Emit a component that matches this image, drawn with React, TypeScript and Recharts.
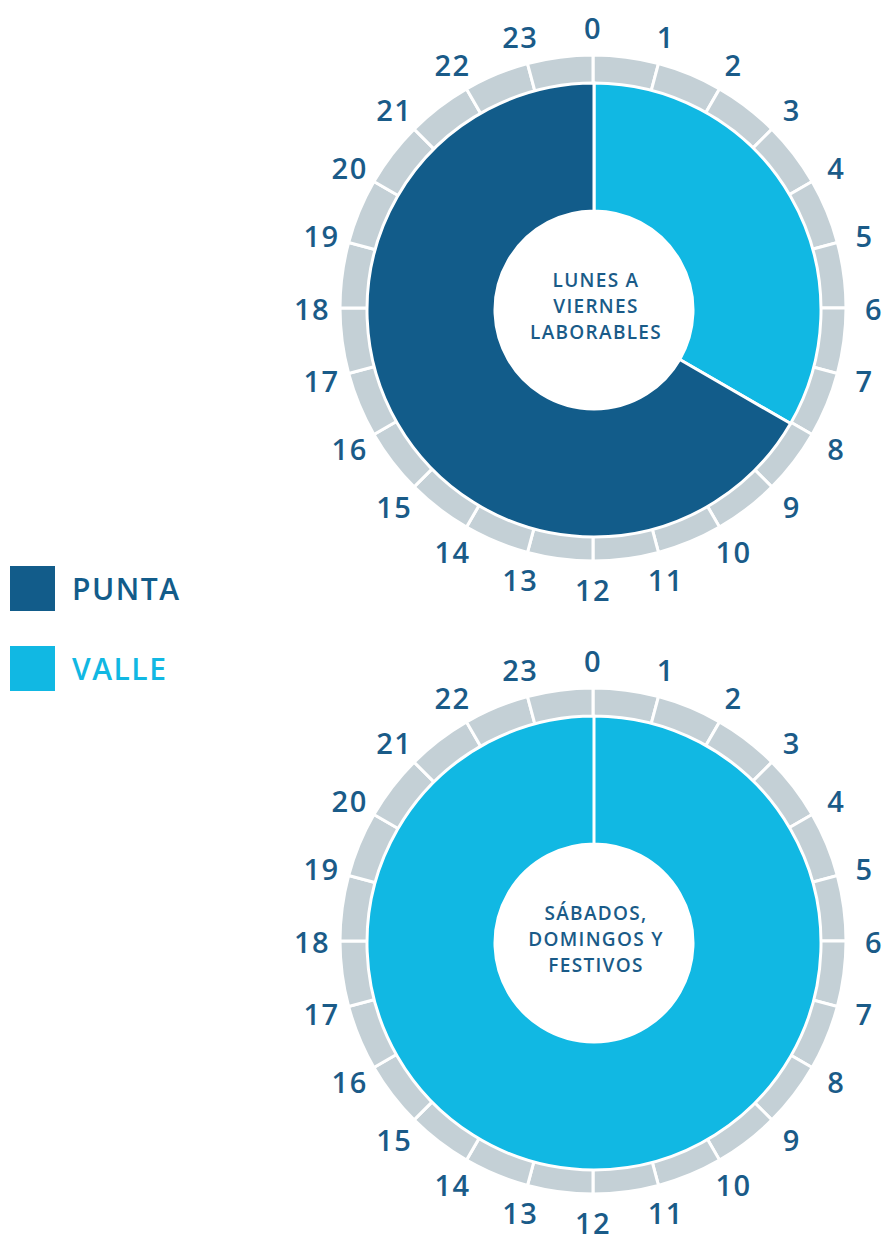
import { Cell, Label, Pie, PieChart } from "recharts";

const hours = Array.from({ length: 24 }, (_, i) => String(i));
const hourRing = hours.map((h) => ({ hour: h, value: 1 }));

// tramos horarios (horas) empezando en las 0h
const laborables = [
  { name: "VALLE", value: 8 },
  { name: "PUNTA", value: 16 },
];
const festivos = [{ name: "VALLE", value: 24 }];

const colors: Record<string, string> = {
  PUNTA: "#125c8a",
  VALLE: "#11b8e3",
};
const ringColor = "#c4d0d6";
const textColor = "#1a5b88";
const font = "'Open Sans', 'Noto Sans', sans-serif";

const RAD = Math.PI / 180;

const hourLabel = (props: any) => {
  const { cx, cy, startAngle, index } = props;
  const r = 281;
  const x = cx + r * Math.cos(-startAngle * RAD);
  const y = cy + r * Math.sin(-startAngle * RAD);
  return (
    <text
      key={`h-${index}`}
      x={x}
      y={y}
      fill={textColor}
      fontSize={29}
      fontWeight={600}
      fontFamily={font}
      letterSpacing={1.5}
      textAnchor="middle"
      dominantBaseline="central"
    >
      {hours[index]}
    </text>
  );
};

const centerText = (lines: string[], cx: number, cy: number) => () => {
  const lh = 26;
  const y0 = cy - ((lines.length - 1) * lh) / 2;
  return (
    <text
      textAnchor="middle"
      fill={textColor}
      fontSize={19}
      fontWeight={600}
      fontFamily={font}
      letterSpacing={1.3}
    >
      {lines.map((l, i) => (
        <tspan key={i} x={cx} y={y0 + i * lh} dominantBaseline="central">
          {l}
        </tspan>
      ))}
    </text>
  );
};

const legendItems = ["PUNTA", "VALLE"];

export default function App() {
  const charts = [
    { cy: 303, data: laborables, lines: ["LUNES A", "VIERNES", "LABORABLES"] },
    { cy: 936, data: festivos, lines: ["SÁBADOS,", "DOMINGOS Y", "FESTIVOS"] },
  ];
  return (
    <div style={{ position: "absolute", left: 0, top: 0, width: 884, height: 1240, background: "#fff" }}>
      <PieChart width={884} height={1240}>
        {charts.map((c, ci) => [
          <Pie
            key={`ring-${ci}`}
            data={hourRing}
            dataKey="value"
            cx={588}
            cy={c.cy}
            innerRadius={224}
            outerRadius={253}
            startAngle={90}
            endAngle={-270}
            fill={ringColor}
            stroke="#ffffff"
            strokeWidth={3}
            label={hourLabel}
            labelLine={false}
            isAnimationActive={false}
          />,
          <Pie
            key={`tramos-${ci}`}
            data={c.data}
            dataKey="value"
            cx={589}
            cy={c.cy + 2}
            innerRadius={99}
            outerRadius={227}
            startAngle={90}
            endAngle={-270}
            stroke="#ffffff"
            strokeWidth={3}
            isAnimationActive={false}
          >
            {c.data.map((d, i) => (
              <Cell key={i} fill={colors[d.name]} />
            ))}
            <Label position="center" content={centerText(c.lines, 596, c.cy + 3)} />
          </Pie>,
        ])}
      </PieChart>
      {legendItems.map((name, i) => (
        <div
          key={name}
          style={{
            position: "absolute",
            left: 10,
            top: 566 + i * 80,
            display: "flex",
            alignItems: "center",
            fontFamily: font,
            fontWeight: 600,
            fontSize: 30,
            letterSpacing: 1.5,
            color: colors[name],
          }}
        >
          <div style={{ width: 45, height: 45, background: colors[name], marginRight: 17 }} />
          <span>{name}</span>
        </div>
      ))}
    </div>
  );
}
